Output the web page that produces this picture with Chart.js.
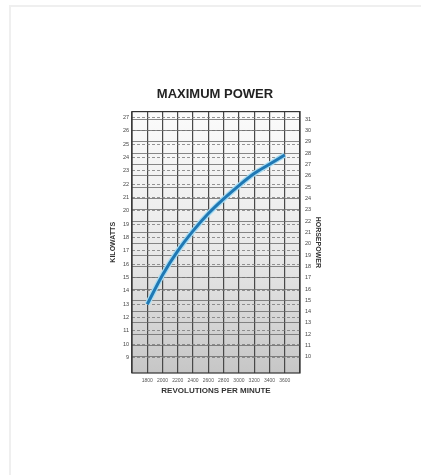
<!DOCTYPE html>
<html>
<head>
<meta charset="utf-8">
<script src="https://cdn.jsdelivr.net/npm/chart.js@4"></script>
<style>
  html,body{margin:0;padding:0;background:#fff;}
  #wrap{position:absolute;left:0;top:0;width:421px;height:475px;}
  #frame{position:absolute;left:9px;top:5px;right:0;bottom:0;border-top:2px solid #efefef;border-left:2px solid #efefef;}
  canvas{position:absolute;left:0;top:0;}
</style>
</head>
<body>
<div id="wrap">
  <div id="frame"></div>
  <canvas id="chart" width="421" height="475"></canvas>
</div>
<script>
// === Dados ===
const rpm = [1800, 2000, 2200, 2400, 2600, 2800, 3000, 3200, 3400, 3600];
const kilowatts = [13, 15.2, 17.0, 18.5, 19.8, 20.9, 21.9, 22.8, 23.5, 24.2];
const kwTicks = [9, 10, 11, 12, 13, 14, 15, 16, 17, 18, 19, 20, 21, 22, 23, 24, 25, 26, 27];
const hpTicks = [10, 11, 12, 13, 14, 15, 16, 17, 18, 19, 20, 21, 22, 23, 24, 25, 26, 27, 28, 29, 30, 31];
const rpmMin = 1600, rpmMax = 3800;

const pontos = rpm.map((r, i) => ({x: r, y: kilowatts[i]}));

// fundo em degradê + moldura
const fundoPlugin = {
  id: "fundo",
  beforeDraw(chart){
    const {ctx, chartArea: a} = chart;
    const g = ctx.createLinearGradient(0, a.top, 0, a.bottom);
    g.addColorStop(0, "#fbfbfb");
    g.addColorStop(0.55, "#e8e8e8");
    g.addColorStop(1, "#c6c6c6");
    ctx.save();
    ctx.fillStyle = g;
    ctx.fillRect(a.left, a.top, a.right - a.left, a.bottom - a.top);
    ctx.restore();
  },
  afterDatasetsDraw(chart){
    const {ctx, chartArea: a} = chart;
    ctx.save();
    ctx.strokeStyle = "#333";
    ctx.lineWidth = 1.2;
    ctx.strokeRect(a.left, a.top, a.right - a.left, a.bottom - a.top);
    ctx.restore();
  }
};

new Chart(document.getElementById("chart"), {
  type: "line",
  data: {
    datasets: [
      {data: pontos, borderColor: "#1f78b4", borderWidth: 3, pointRadius: 0, cubicInterpolationMode: "monotone", order: 0},
      {data: pontos, borderColor: "#a8dcf2", borderWidth: 5.5, pointRadius: 0, cubicInterpolationMode: "monotone", order: 1}
    ]
  },
  options: {
    responsive: false,
    animation: false,
    layout: {padding: {left: 100, right: 91, top: 80, bottom: 72}},
    plugins: {
      legend: {display: false},
      tooltip: {enabled: false},
      title: {
        display: true,
        text: "MAXIMUM POWER",
        color: "#222",
        font: {family: "Liberation Sans", size: 13, weight: "bold"},
        padding: {top: 7, bottom: 9}
      }
    },
    scales: {
      x: {
        type: "linear",
        min: rpmMin,
        max: rpmMax,
        afterBuildTicks: s => { s.ticks = [rpmMin, ...rpm, rpmMax].map(v => ({value: v})); },
        afterFit: s => { s.height = 30; },
        grid: {color: "#484848", lineWidth: 1.2, drawTicks: false},
        border: {display: false},
        ticks: {
          padding: 5,
          maxRotation: 0,
          autoSkip: false,
          color: "#555",
          font: {family: "Liberation Sans", size: 5},
          callback: v => rpm.includes(v) ? String(v) : ""
        },
        title: {
          display: true,
          text: "REVOLUTIONS PER MINUTE",
          color: "#333",
          font: {family: "Liberation Sans", size: 8, weight: "bold"},
          padding: {top: 0, bottom: 7}
        }
      },
      y: {
        position: "left",
        min: 7.84,
        max: 27.45,
        afterBuildTicks: s => { s.ticks = kwTicks.map(v => ({value: v})); },
        afterFit: s => { s.width = 32; },
        grid: {color: "#7a7a7a", lineWidth: 0.8, drawTicks: false},
        border: {display: false, dash: [3, 2]},
        ticks: {
          padding: 3,
          autoSkip: false,
          color: "#444",
          font: {family: "Liberation Sans", size: 5.5}
        },
        title: {
          display: true,
          text: "KILOWATTS",
          color: "#333",
          font: {family: "Liberation Sans", size: 7, weight: "bold"},
          padding: {top: 9, bottom: 0}
        }
      },
      y1: {
        position: "right",
        min: 8.58,
        max: 31.68,
        afterBuildTicks: s => { s.ticks = hpTicks.map(v => ({value: v})); },
        afterFit: s => { s.width = 30; },
        grid: {color: "#6a6a6a", lineWidth: 0.8, drawTicks: false},
        border: {display: false},
        ticks: {
          padding: 5,
          autoSkip: false,
          color: "#444",
          font: {family: "Liberation Sans", size: 5.5}
        },
        title: {
          display: true,
          text: "HORSEPOWER",
          color: "#333",
          font: {family: "Liberation Sans", size: 7, weight: "bold"},
          padding: {top: 8, bottom: 0}
        }
      }
    }
  },
  plugins: [fundoPlugin]
});
</script>
</body>
</html>
